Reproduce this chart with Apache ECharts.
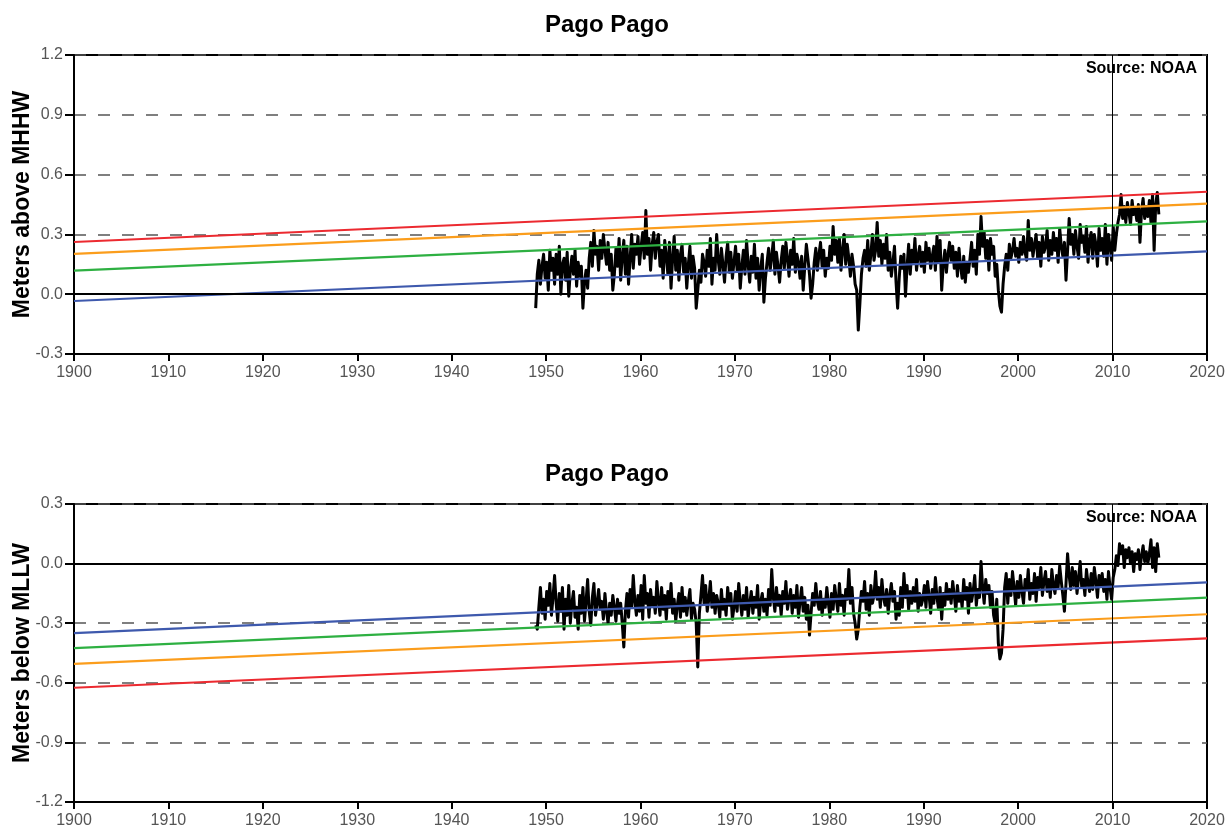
<!DOCTYPE html>
<html>
<head>
<meta charset="utf-8">
<script src="https://cdn.jsdelivr.net/npm/echarts@6/dist/echarts.min.js"></script>
<style>
  html, body { margin: 0; padding: 0; background: #fff; }
  #chart { width: 1231px; height: 830px; }
</style>
</head>
<body>
<div id="chart"></div>
<script>
// Station and labels
const stationName = 'Pago Pago';
const sourceText = 'Source: NOAA';
const topAxisName = 'Meters above MHHW';
const bottomAxisName = 'Meters below MLLW';

// Axis ranges
const yearRange = [1900, 2020];
const topRange = [-0.3, 1.2];
const bottomRange = [-1.2, 0.3];
const referenceYear = 2010;

// Observed record: first sample year and samples per year
const recordStart = 1948.9;
const samplesPerYear = 6;

// Monthly extreme high water, metres above MHHW (one row per year)
const highWater = [
  -0.07, 0.10, 0.17, 0.05, 0.14, 0.20,
  0.08, 0.16, 0.02, 0.22, 0.12, 0.18,
  0.05, 0.20, 0.10, 0.24, 0.00, 0.15,
  0.18, 0.07, 0.21, -0.01, 0.12, 0.19,
  0.10, 0.22, 0.04, 0.16, 0.09, 0.14,
  -0.07, 0.06, 0.12, 0.03, 0.18, 0.26,
  0.14, 0.32, 0.20, 0.24, 0.12, 0.27,
  0.18, 0.30, 0.22, 0.15, 0.26, 0.12,
  0.20, 0.02, 0.10, 0.23, 0.14, 0.28,
  0.07, 0.19, 0.27, 0.10, 0.24, 0.05,
  0.18, 0.30, 0.13, 0.25, 0.20, 0.29,
  0.15, 0.24, 0.31, 0.18, 0.42, 0.20,
  0.28, 0.12, 0.25, 0.31, 0.18, 0.26,
  0.30, 0.14, 0.22, 0.08, 0.27, 0.19,
  0.10, 0.26, 0.03, 0.18, 0.29, 0.12,
  0.22, 0.07, 0.20, 0.25, 0.11, 0.18,
  0.03, 0.15, 0.24, 0.08, 0.19, 0.13,
  -0.07, 0.02, 0.12, 0.06, 0.20, 0.16,
  0.09, 0.22, 0.14, 0.28, 0.05, 0.18,
  0.12, 0.30, 0.17, 0.10, 0.23, 0.15,
  0.06, 0.19, 0.26, 0.11, 0.21, 0.08,
  0.16, 0.24, 0.12, 0.20, 0.03, 0.14,
  0.22, 0.10, 0.27, 0.15, 0.06, 0.19,
  0.11, 0.25, 0.08, 0.18, 0.02, 0.13,
  0.20, -0.04, 0.08, 0.16, 0.23, 0.12,
  0.19, 0.27, 0.10, 0.21, 0.14, 0.06,
  0.17, 0.24, 0.13, 0.26, 0.18, 0.09,
  0.22, 0.15, 0.28, 0.11, 0.20, 0.16,
  0.08, 0.19, 0.02, 0.14, 0.25, 0.18,
  0.10, -0.02, 0.05, 0.16, 0.23, 0.12,
  0.20, 0.26, 0.14, 0.22, 0.09, 0.18,
  0.13, 0.24, 0.17, 0.34, 0.20, 0.27,
  0.16, 0.28, 0.12, 0.22, 0.30, 0.15,
  0.25, 0.18, 0.09, 0.20, 0.14, 0.05,
  0.02, -0.18, -0.05, 0.10, 0.18, 0.22,
  0.14, 0.27, 0.12, 0.20, 0.30, 0.17,
  0.22, 0.36, 0.19, 0.27, 0.15, 0.25,
  0.18, 0.30, 0.12, 0.21, 0.09, 0.16,
  0.24, 0.06, -0.07, 0.08, 0.19, 0.13,
  0.20, -0.01, 0.14, 0.25, 0.10, 0.22,
  0.16, 0.28, 0.12, 0.19, 0.24, 0.14,
  0.21, 0.11, 0.26, 0.17, 0.23, 0.13,
  0.19, 0.24, 0.12, 0.29, 0.16, 0.27,
  0.02, 0.15, 0.22, 0.11, 0.20, 0.26,
  0.17, 0.24, 0.13, 0.21, 0.09, 0.23,
  0.14, 0.08, 0.19, 0.06, 0.16, 0.11,
  0.18, 0.26, 0.14, 0.22, 0.10, 0.30,
  0.20, 0.39, 0.24, 0.31, 0.18, 0.27,
  0.12, 0.28, 0.20, 0.24, 0.09, 0.15,
  0.02, -0.06, -0.09, 0.05, 0.14, 0.20,
  0.12, 0.25, 0.18, 0.22, 0.28, 0.19,
  0.23, 0.16, 0.26, 0.20, 0.29, 0.21,
  0.17, 0.37, 0.22, 0.28, 0.19, 0.25,
  0.30, 0.18, 0.26, 0.14, 0.29, 0.21,
  0.24, 0.32, 0.17, 0.27, 0.20, 0.31,
  0.22, 0.28, 0.16, 0.33, 0.24, 0.19,
  0.26, 0.07, 0.22, 0.38, 0.25, 0.30,
  0.20, 0.32, 0.24, 0.18, 0.35, 0.26,
  0.29, 0.21, 0.34, 0.16, 0.27, 0.31,
  0.18, 0.30, 0.25, 0.14, 0.33, 0.22,
  0.28, 0.19, 0.35, 0.15, 0.30, 0.24,
  0.17, 0.34, 0.22, 0.30, 0.36, 0.40,
  0.50, 0.38, 0.44, 0.36, 0.46, 0.41,
  0.35, 0.47, 0.40, 0.43, 0.37, 0.45,
  0.26, 0.42, 0.48, 0.38, 0.44, 0.39,
  0.47, 0.36, 0.50, 0.22, 0.45, 0.51,
  0.40
];

// Monthly extreme low water, metres relative to MLLW (one row per year)
const lowWater = [
  -0.31, -0.33, -0.22, -0.12, -0.25, -0.18,
  -0.28, -0.14, -0.21, -0.10, -0.26, -0.17,
  -0.06, -0.20, -0.29, -0.15, -0.24, -0.12,
  -0.33, -0.18, -0.26, -0.11, -0.30, -0.20,
  -0.14, -0.27, -0.22, -0.33, -0.16, -0.25,
  -0.12, -0.29, -0.19, -0.08, -0.24, -0.31,
  -0.17, -0.10, -0.26, -0.20, -0.13, -0.23,
  -0.19, -0.28, -0.15, -0.24, -0.30, -0.20,
  -0.26, -0.16, -0.22, -0.29, -0.18, -0.25,
  -0.20, -0.30, -0.42, -0.24, -0.15, -0.27,
  -0.13, -0.22, -0.06, -0.19, -0.26, -0.16,
  -0.24, -0.11, -0.28, -0.06, -0.20, -0.15,
  -0.27, -0.13, -0.21, -0.17, -0.25, -0.09,
  -0.19, -0.26, -0.12, -0.23, -0.16, -0.28,
  -0.14, -0.22, -0.10, -0.25, -0.18, -0.29,
  -0.21, -0.15, -0.27, -0.12, -0.24, -0.17,
  -0.26, -0.19, -0.13, -0.28, -0.20, -0.23,
  -0.30, -0.52, -0.25, -0.16, -0.06, -0.20,
  -0.11, -0.24, -0.18, -0.09, -0.22, -0.15,
  -0.25, -0.16, -0.20, -0.27, -0.13, -0.23,
  -0.18, -0.26, -0.12, -0.21, -0.15, -0.28,
  -0.22, -0.14, -0.24, -0.10, -0.19, -0.26,
  -0.16, -0.23, -0.12, -0.27, -0.20, -0.14,
  -0.25, -0.17, -0.22, -0.11, -0.28, -0.19,
  -0.15, -0.24, -0.18, -0.26, -0.13, -0.21,
  -0.03, -0.17, -0.24, -0.12, -0.21, -0.16,
  -0.26, -0.14, -0.20, -0.09, -0.23, -0.18,
  -0.13, -0.25, -0.16, -0.22, -0.11, -0.27,
  -0.19, -0.12, -0.24, -0.17, -0.28, -0.21,
  -0.36, -0.25, -0.15, -0.21, -0.10, -0.19,
  -0.23, -0.14, -0.26, -0.18, -0.22, -0.12,
  -0.20, -0.27, -0.15, -0.23, -0.11, -0.18,
  -0.24, -0.10, -0.21, -0.16, -0.26, -0.13,
  -0.18, -0.03, -0.20, -0.12, -0.25, -0.30,
  -0.38, -0.33, -0.22, -0.14, -0.19, -0.09,
  -0.23, -0.15, -0.26, -0.11, -0.20, -0.16,
  -0.04, -0.18, -0.12, -0.22, -0.08, -0.17,
  -0.21, -0.13, -0.25, -0.16, -0.10, -0.19,
  -0.14, -0.28, -0.20, -0.26, -0.12, -0.22,
  -0.05, -0.17, -0.11, -0.23, -0.14, -0.20,
  -0.12, -0.19, -0.08, -0.24, -0.15, -0.21,
  -0.18, -0.11, -0.22, -0.09, -0.16, -0.25,
  -0.13, -0.20, -0.07, -0.17, -0.23, -0.12,
  -0.28, -0.15, -0.21, -0.10, -0.18, -0.13,
  -0.20, -0.09, -0.16, -0.24, -0.11, -0.19,
  -0.15, -0.22, -0.08, -0.18, -0.12, -0.25,
  -0.10, -0.19, -0.14, -0.06, -0.21, -0.13,
  -0.17, 0.01, -0.12, -0.20, -0.08, -0.15,
  -0.11, -0.22, -0.14, -0.26, -0.30, -0.18,
  -0.40, -0.48, -0.45, -0.33, -0.12, -0.05,
  -0.20, -0.08, -0.16, -0.04, -0.12, -0.21,
  -0.09, -0.17, -0.06, -0.14, -0.20, -0.08,
  -0.13, -0.03, -0.18, -0.10, -0.15, -0.05,
  -0.19, -0.07, -0.12, -0.02, -0.16, -0.09,
  -0.04, -0.14, -0.08, -0.17, -0.03, -0.11,
  -0.15, -0.06, -0.12, -0.01, -0.09, -0.16,
  -0.24, -0.10, 0.05, -0.06, -0.13, -0.02,
  -0.11, -0.04, -0.15, -0.07, 0.01, -0.12,
  -0.08, -0.16, -0.03, -0.10, -0.14, -0.05,
  -0.13, -0.02, -0.09, -0.17, -0.06, -0.11,
  -0.05, -0.14, -0.08, -0.18, -0.04, -0.12,
  -0.18, -0.07, -0.03, 0.04, -0.01, 0.10,
  0.05, 0.09, -0.02, 0.07, 0.03, 0.08,
  0.00, 0.06, -0.04, 0.05, 0.02, 0.07,
  -0.03, 0.04, 0.09, 0.01, 0.06, 0.00,
  0.05, 0.12, -0.02, 0.08, -0.04, 0.10,
  0.03
];

// Projection lines: values at 1900 and 2020
const trendYears = [1900, 2020];
const highRed    = [0.262, 0.514];
const highOrange = [0.202, 0.454];
const highGreen  = [0.118, 0.365];
const highBlue   = [-0.034, 0.215];
const lowBlue    = [-0.350, -0.095];
const lowGreen   = [-0.425, -0.171];
const lowOrange  = [-0.505, -0.255];
const lowRed     = [-0.625, -0.376];

const COLORS = { red: '#ec2a30', orange: '#fb9d1c', green: '#2eb042', blue: '#3e59ad' };
const FONT = '"Liberation Sans", Arial, sans-serif';

function toPairs(values) {
  return values.map((v, i) => [recordStart + i / samplesPerYear, v]);
}
function trendPairs(values) {
  return trendYears.map((y, i) => [y, values[i]]);
}
function fmt(v) {
  if (Math.abs(v) < 1e-9) return '0.0';
  return v.toFixed(1);
}

function xAxisFor(gridIndex) {
  return {
    gridIndex, type: 'value', min: yearRange[0], max: yearRange[1], interval: 10,
    axisLine: { show: true, onZero: false, lineStyle: { color: '#000', width: 2 } },
    axisTick: { show: true, length: 7, lineStyle: { color: '#000', width: 2 } },
    axisLabel: { color: '#555', fontSize: 16, fontFamily: FONT, margin: 11,
                 formatter: v => String(Math.round(v)) },
    splitLine: { show: false }
  };
}
function yAxisFor(gridIndex, range, name) {
  return {
    gridIndex, type: 'value', min: range[0], max: range[1], interval: 0.3,
    name, nameLocation: 'middle', nameGap: 40, nameMoveOverlap: false,
    nameTextStyle: { color: '#000', fontSize: 23, fontWeight: 'bold', fontFamily: FONT },
    axisLine: { show: true, onZero: false, lineStyle: { color: '#000', width: 2 } },
    axisTick: { show: true, length: 9, lineStyle: { color: '#000', width: 2 } },
    axisLabel: { color: '#555', fontSize: 16, fontFamily: FONT, margin: 11, formatter: fmt },
    splitLine: { show: true, lineStyle: { color: '#555', width: 1.5, type: [12, 12] } }
  };
}

function recordSeries(idx, values) {
  return {
    type: 'line', xAxisIndex: idx, yAxisIndex: idx, data: toPairs(values),
    showSymbol: false, silent: true, z: 3,
    lineStyle: { color: '#000', width: 3, join: 'round' },
    markLine: {
      silent: true, symbol: 'none', label: { show: false },
      data: [
        { yAxis: 0, lineStyle: { color: '#000', width: 2, type: 'solid' } },
        { xAxis: referenceYear, lineStyle: { color: '#000', width: 1, type: 'solid' } }
      ]
    }
  };
}
function trendSeries(idx, values, color) {
  return {
    type: 'line', xAxisIndex: idx, yAxisIndex: idx, data: trendPairs(values),
    showSymbol: false, silent: true, z: 4,
    lineStyle: { color, width: 2.2 }
  };
}

const titleStyle = { fontSize: 24, fontWeight: 'bold', color: '#000', fontFamily: FONT };
const sourceStyle = { fontSize: 16, fontWeight: 'bold', color: '#000', fontFamily: FONT };

const chart = echarts.init(document.getElementById('chart'), null, { renderer: 'canvas' });
chart.setOption({
  backgroundColor: '#fff',
  animation: false,
  title: [
    { text: stationName, left: 607, top: 13, padding: 0, textAlign: 'center', textStyle: titleStyle },
    { text: stationName, left: 607, top: 462, padding: 0, textAlign: 'center', textStyle: titleStyle },
    { text: sourceText, left: 1197, top: 61, padding: 0, textAlign: 'right', textStyle: sourceStyle },
    { text: sourceText, left: 1197, top: 510, padding: 0, textAlign: 'right', textStyle: sourceStyle }
  ],
  grid: [
    { left: 74, right: 24, top: 55, height: 299, show: true, borderColor: '#000', borderWidth: 2,
      containLabel: false, outerBoundsMode: 'none' },
    { left: 74, right: 24, top: 504, height: 298, show: true, borderColor: '#000', borderWidth: 2,
      containLabel: false, outerBoundsMode: 'none' }
  ],
  xAxis: [xAxisFor(0), xAxisFor(1)],
  yAxis: [yAxisFor(0, topRange, topAxisName), yAxisFor(1, bottomRange, bottomAxisName)],
  series: [
    recordSeries(0, highWater),
    trendSeries(0, highBlue, COLORS.blue),
    trendSeries(0, highGreen, COLORS.green),
    trendSeries(0, highOrange, COLORS.orange),
    trendSeries(0, highRed, COLORS.red),
    recordSeries(1, lowWater),
    trendSeries(1, lowBlue, COLORS.blue),
    trendSeries(1, lowGreen, COLORS.green),
    trendSeries(1, lowOrange, COLORS.orange),
    trendSeries(1, lowRed, COLORS.red)
  ]
});
</script>
</body>
</html>
